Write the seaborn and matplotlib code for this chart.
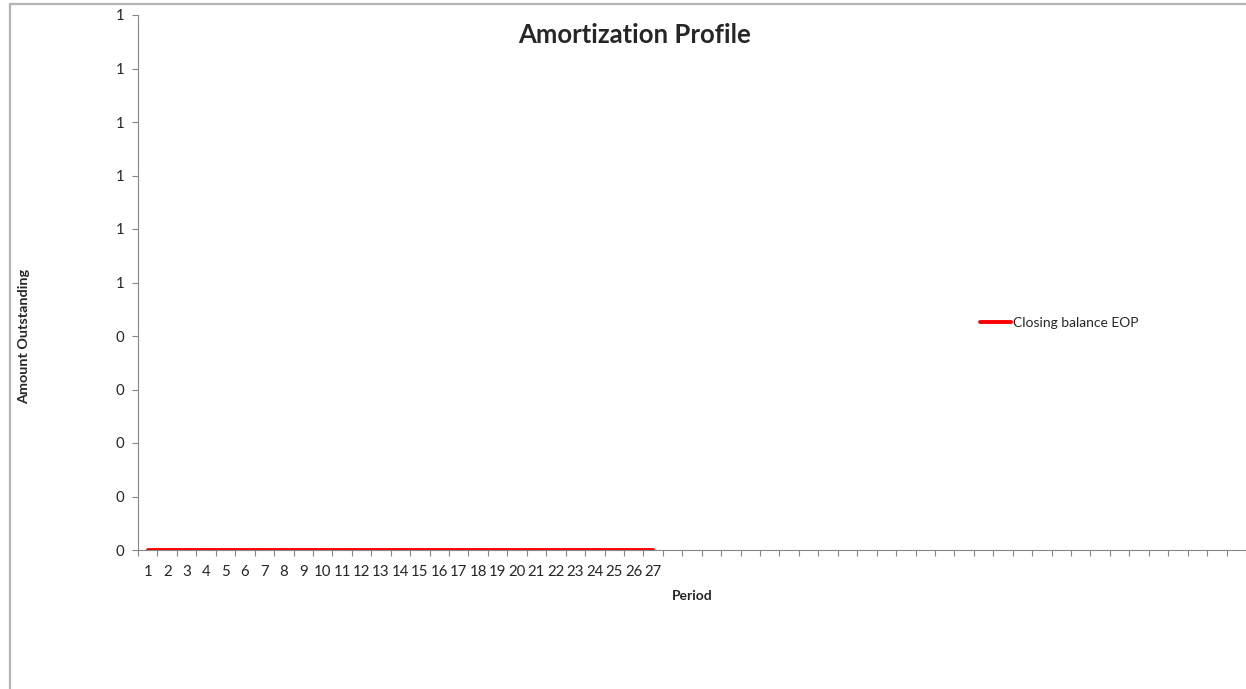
import numpy as np
import pandas as pd
import seaborn as sns
from matplotlib import pyplot as plt
from matplotlib.patches import Rectangle

# periods shown on the category axis (Excel leaves the rest blank)
periods = list(range(1, 58))
period_labels = [str(p) for p in range(1, 28)]
closing_balance = [0] * 27 + [np.nan] * 30
ytick_values = [0, 0.1, 0.2, 0.3, 0.4, 0.5, 0.6, 0.7, 0.8, 0.9, 1.0]
ytick_labels = ["0", "0", "0", "0", "0", "1", "1", "1", "1", "1", "1"]

df = pd.DataFrame({"Period": periods, "Closing balance EOP": closing_balance})

sns.set_style("white")
plt.rcParams["font.family"] = ["Lato", "DejaVu Sans"]

fig = plt.figure(figsize=(12.46, 6.89), dpi=100)
W, H = 1246, 689
ax = fig.add_axes([138 / W, 1 - 550 / H, (1246 - 138) / W, (550 - 15) / H])

sns.lineplot(data=df, x="Period", y="Closing balance EOP", color="#ff0000",
             linewidth=2.8, ax=ax, label="Closing balance EOP")

ax.set_xlim(0.5, len(periods) + 0.5)
ax.set_ylim(0, 1)

grey = "#868686"
for s in ["top", "right"]:
    ax.spines[s].set_visible(False)
for s in ["left", "bottom"]:
    ax.spines[s].set_color(grey)
    ax.spines[s].set_linewidth(0.8)
ax.spines["bottom"].set_zorder(1)

ax.set_xticks(range(1, 28))
ax.set_xticklabels(period_labels)
ax.set_xticks(np.arange(0.5, len(periods) + 1, 1), minor=True)
ax.tick_params(axis="x", which="major", length=0, pad=11, labelsize=10.8)
ax.tick_params(axis="x", which="minor", length=4, width=0.8, color=grey,
               direction="out", bottom=True)

ax.set_yticks(ytick_values)
ax.set_yticklabels(ytick_labels)
ax.tick_params(axis="y", length=4, width=0.8, color=grey, pad=6,
               labelsize=10.8, direction="out", left=True)

ax.set_xlabel("Period", fontsize=10, fontweight="bold", labelpad=7.5)
ax.set_ylabel("")
fig.text(24 / W, 1 - 337 / H, "Amount Outstanding", rotation=90,
         fontsize=10.4, fontweight="bold", ha="center", va="center")
fig.text(635 / W, 1 - 35 / H, "Amortization Profile", fontsize=18.5,
         fontweight="bold", ha="center", va="center")

ax.legend(loc="center left", bbox_to_anchor=(980 / W, 1 - 323 / H),
          bbox_transform=fig.transFigure, frameon=False, borderpad=0,
          borderaxespad=0, handlelength=2.2, handletextpad=0.2, fontsize=10)

fig.patches.append(Rectangle((9.5 / W, -0.1), 1.2, 1 - 4.5 / H + 0.1,
                             transform=fig.transFigure, fill=False,
                             edgecolor="#b3b3b3", linewidth=1.6))

fig.savefig("out.png", dpi=100)
